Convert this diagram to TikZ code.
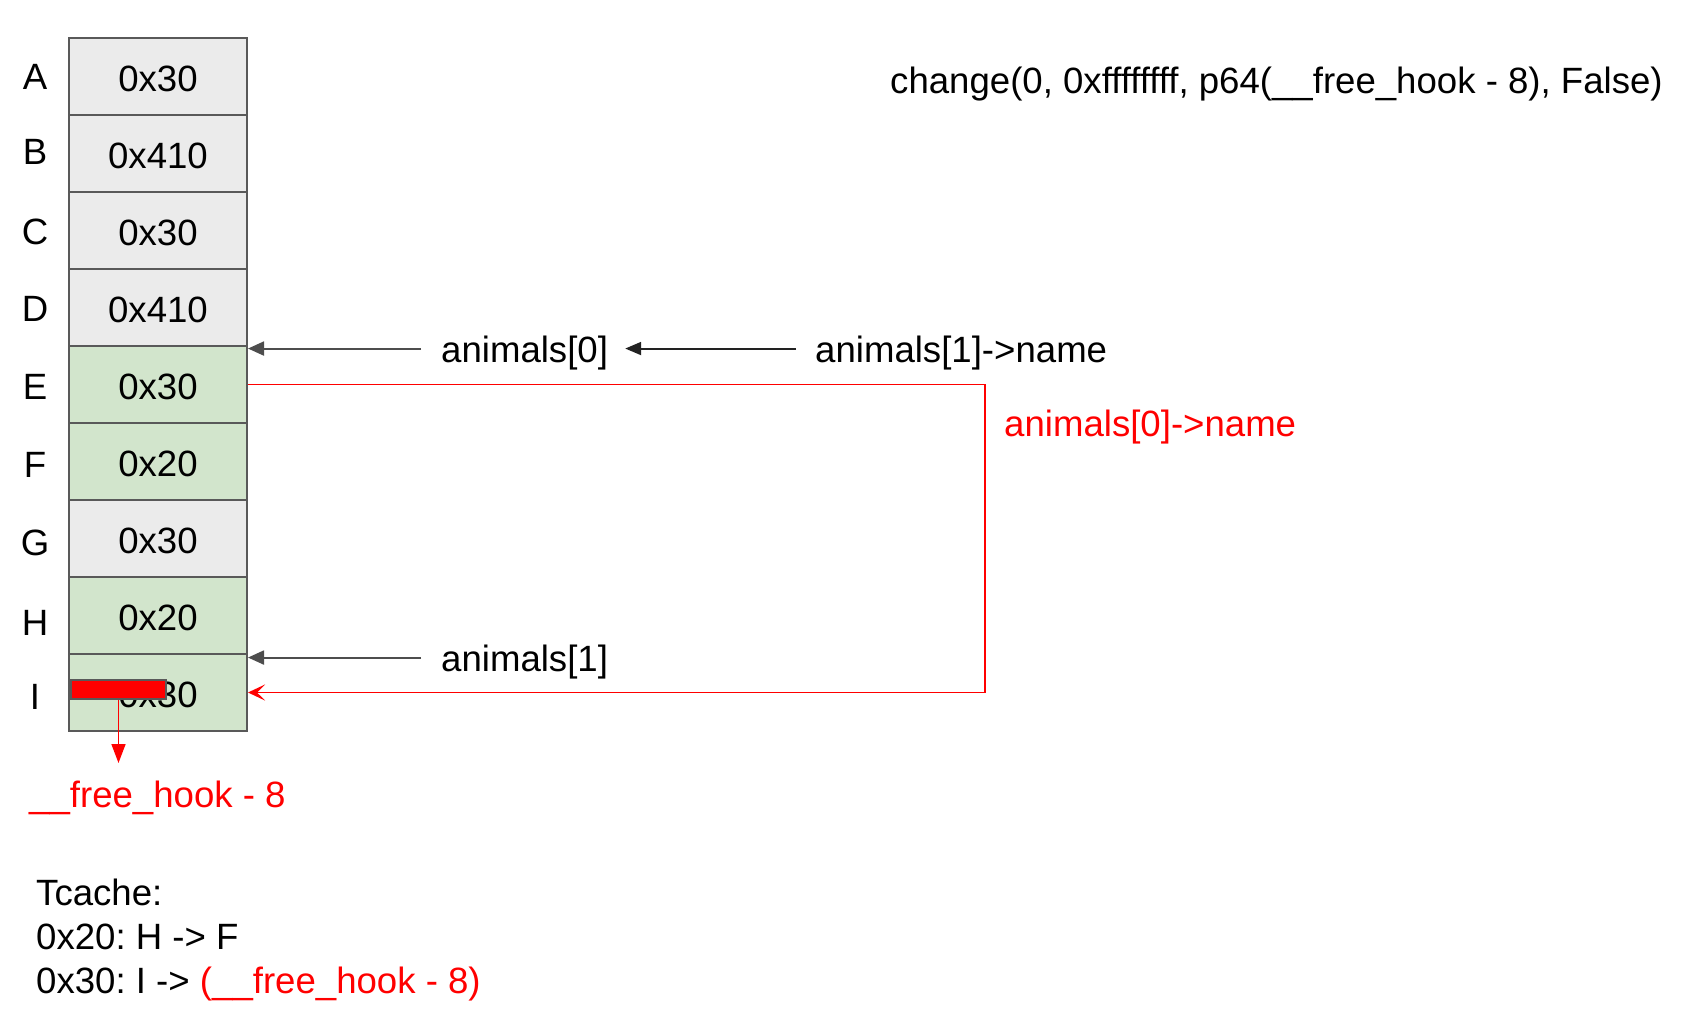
\documentclass[tikz,border=0pt]{standalone}
\usepackage{fontspec}
\setmainfont{Liberation Sans}
\usetikzlibrary{arrows.meta}
\definecolor{cellgray}{HTML}{EBEBEB}
\definecolor{cellgreen}{HTML}{D2E5CC}
\definecolor{edgegray}{HTML}{595959}
\definecolor{arrgray}{HTML}{4D4D4D}
\definecolor{arrblack}{HTML}{222222}
\definecolor{myred}{HTML}{FF0000}
\frenchspacing
\begin{document}
\begin{tikzpicture}[x=1pt,y=-1pt,
  every node/.style={font=\fontsize{36.6}{44}\selectfont},
  cell/.style={draw=edgegray, line width=2pt, minimum width=178pt, minimum height=77pt, inner sep=0pt, text height=30pt, text depth=0pt},
  gcell/.style={cell, fill=cellgray},
  vcell/.style={cell, fill=cellgreen},
  rowlbl/.style={inner sep=0pt},
  lbl/.style={anchor=base west, inner sep=0pt},
  redlbl/.style={lbl, text=myred},
  grayarr/.style={draw=arrgray, line width=2pt, -{Triangle[length=16pt,width=14pt]}},
  blackarr/.style={draw=arrblack, line width=2pt, -{Triangle[length=16pt,width=13pt]}},
  redarr/.style={draw=myred, line width=1.6pt, -{Stealth[length=17pt,width=16pt,inset=8pt]}},
  reddown/.style={draw=myred, line width=1.6pt, -{Triangle[length=19pt,width=14pt]}}
]
\useasboundingbox (0,0) rectangle (1702,1026);

% memory cells
\node[gcell] (cA) at (158,76.5) {0x30};
\node[gcell] (cB) at (158,153.5) {0x410};
\node[gcell] (cC) at (158,230.5) {0x30};
\node[gcell] (cD) at (158,307.5) {0x410};
\node[vcell] (cE) at (158,384.5) {0x30};
\node[vcell] (cF) at (158,461.5) {0x20};
\node[gcell] (cG) at (158,538.5) {0x30};
\node[vcell] (cH) at (158,615.5) {0x20};
\node[vcell] (cI) at (158,692.5) {0x30};

% row letters
\node[rowlbl] (lA) at (35,77) {A};
\node[rowlbl] (lB) at (35,152) {B};
\node[rowlbl] (lC) at (35,232) {C};
\node[rowlbl] (lD) at (35,309) {D};
\node[rowlbl] (lE) at (35,387) {E};
\node[rowlbl] (lF) at (35,465) {F};
\node[rowlbl] (lG) at (35,543) {G};
\node[rowlbl] (lH) at (35,623) {H};
\node[rowlbl] (lI) at (35,697) {I};

% texts
\node[lbl] (chg) at (890,93) {change(0, 0xffffffff, p64(\_\_free\_hook - 8), False)};
\node[lbl] (a0) at (441,362) {animals[0]};
\node[lbl] (n1) at (815,362) {animals[1]->name};
\node[lbl] (a1) at (441,671) {animals[1]};
\node[redlbl] (r0) at (1004,436) {animals[0]->name};
\node[redlbl] (fh) at (29,807) {\_\_free\_hook - 8};
\node[lbl] (t1) at (36,905) {Tcache:};
\node[lbl] (t2) at (36,949) {0x20: H -> F};
\node[lbl] (t3) at (36,993) {0x30: I -> \textcolor{myred}{(\_\_free\_hook - 8)}};

% pointer arrows
\draw[grayarr] ([xshift=-20pt,yshift=4pt]a0.west) -- ([yshift=4pt]a0.west -| cE.east);
\draw[blackarr] ([xshift=-19pt,yshift=4pt]n1.west) -- ([xshift=17pt,yshift=4pt]a0.east);
\draw[grayarr] ([xshift=-20pt,yshift=4pt]a1.west) -- ([yshift=4pt]a1.west -| cI.east);

% red loop
\coordinate (rc) at (985,384.5);
\draw[redarr] (cE.east) -- (rc) |- (cI.east);

% red bar and arrow
\node[draw=edgegray, line width=1.5pt, fill=myred, minimum width=95pt, minimum height=19pt, inner sep=0pt] (bar) at (118.5,689.5) {};
\coordinate (fhtip) at (118.5,763);
\draw[reddown] (bar.south) -- (fhtip);
\end{tikzpicture}
\end{document}
